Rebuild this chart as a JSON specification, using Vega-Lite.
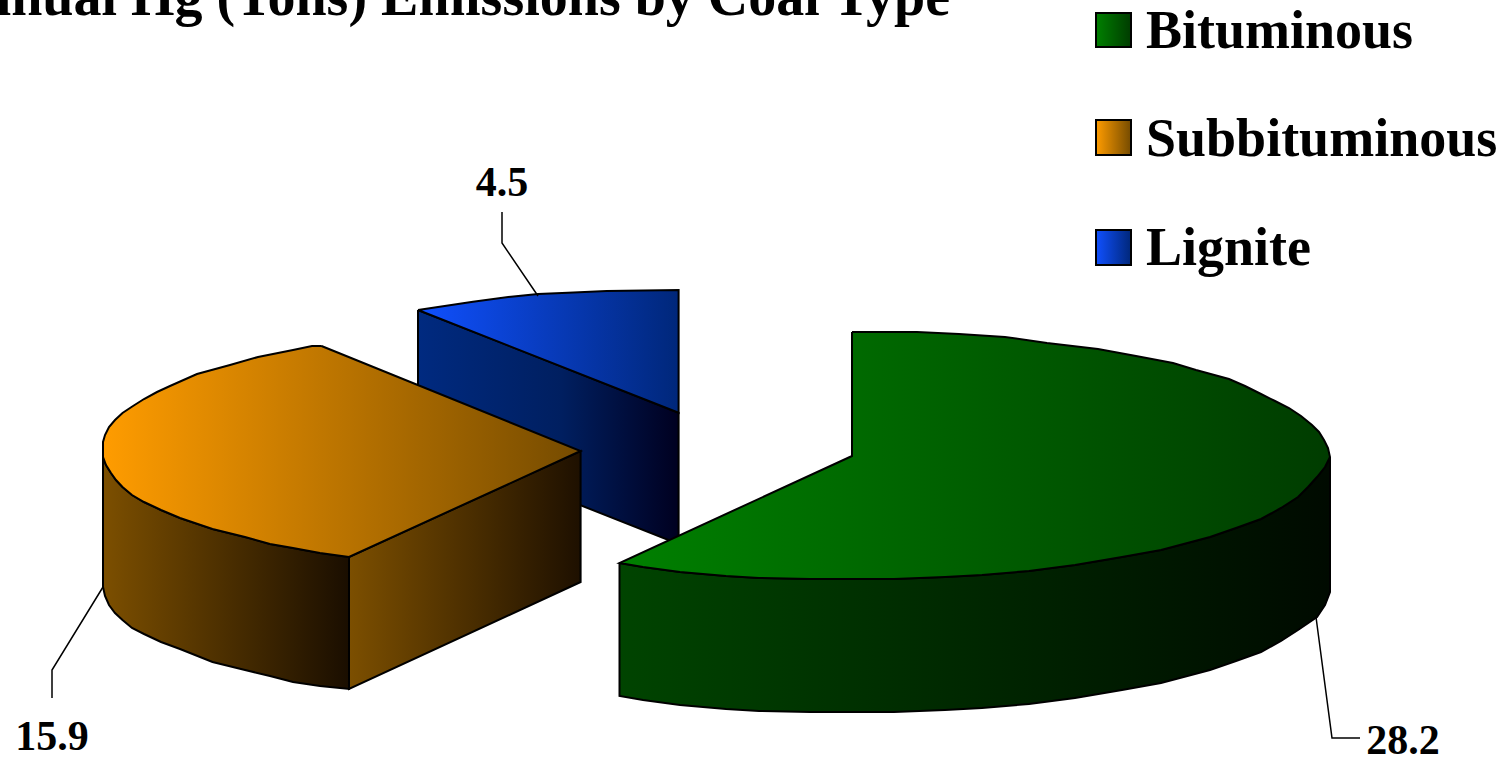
{"$schema":"https://vega.github.io/schema/vega-lite/v6.json","width":1509,"height":758,"padding":0,"autosize":{"type":"none"},"background":"white","config":{"view":{"stroke":null}},
"datasets":{
"outline":[
{"s":"blueSide","i":1,"x":418,"y":310},{"s":"blueSide","i":2,"x":678.6,"y":412.7},{"s":"blueSide","i":3,"x":678.6,"y":544},{"s":"blueSide","i":4,"x":418,"y":441},{"s":"blueSide","i":5,"x":418,"y":310},
{"s":"blueTop","i":1,"x":418,"y":310},{"s":"blueTop","i":2,"x":473,"y":301.7},{"s":"blueTop","i":3,"x":511,"y":296.7},{"s":"blueTop","i":4,"x":538,"y":294},{"s":"blueTop","i":5,"x":568,"y":292.7},{"s":"blueTop","i":6,"x":606.6,"y":291},{"s":"blueTop","i":7,"x":678.6,"y":290},{"s":"blueTop","i":8,"x":678.6,"y":412.7},{"s":"blueTop","i":9,"x":418,"y":310},
{"s":"orangeCut","i":1,"x":349,"y":557},{"s":"orangeCut","i":2,"x":580.6,"y":451},{"s":"orangeCut","i":3,"x":580.6,"y":582},{"s":"orangeCut","i":4,"x":349,"y":689},{"s":"orangeCut","i":5,"x":349,"y":557},
{"s":"orangeSide","i":1,"x":103,"y":457},{"s":"orangeSide","i":1.5,"x":106,"y":465},{"s":"orangeSide","i":2,"x":111,"y":473},{"s":"orangeSide","i":2.5,"x":116,"y":480},{"s":"orangeSide","i":3,"x":122.5,"y":487},{"s":"orangeSide","i":3.5,"x":132,"y":495},{"s":"orangeSide","i":4,"x":144,"y":502},{"s":"orangeSide","i":4.5,"x":161,"y":510},{"s":"orangeSide","i":5,"x":180,"y":518},{"s":"orangeSide","i":6,"x":212.5,"y":529},{"s":"orangeSide","i":7,"x":245,"y":537},{"s":"orangeSide","i":8,"x":270,"y":544},{"s":"orangeSide","i":9,"x":293,"y":548},{"s":"orangeSide","i":10,"x":320,"y":553},{"s":"orangeSide","i":11,"x":349,"y":557},{"s":"orangeSide","i":12,"x":349,"y":689},{"s":"orangeSide","i":13,"x":320,"y":686},{"s":"orangeSide","i":14,"x":293,"y":682},{"s":"orangeSide","i":15,"x":270,"y":676},{"s":"orangeSide","i":16,"x":245,"y":670},{"s":"orangeSide","i":17,"x":212.5,"y":662},{"s":"orangeSide","i":18,"x":180,"y":649},{"s":"orangeSide","i":18.5,"x":161,"y":642},{"s":"orangeSide","i":19,"x":144,"y":634},{"s":"orangeSide","i":19.5,"x":132,"y":628},{"s":"orangeSide","i":20,"x":122.5,"y":620},{"s":"orangeSide","i":20.5,"x":115,"y":613},{"s":"orangeSide","i":21,"x":109,"y":605},{"s":"orangeSide","i":21.5,"x":105,"y":596},{"s":"orangeSide","i":22,"x":103,"y":587},{"s":"orangeSide","i":23,"x":103,"y":457},
{"s":"orangeTop","i":1,"x":321.5,"y":346},{"s":"orangeTop","i":2,"x":312,"y":346},{"s":"orangeTop","i":3,"x":293,"y":350},{"s":"orangeTop","i":4,"x":258,"y":357},{"s":"orangeTop","i":5,"x":230,"y":365},{"s":"orangeTop","i":6,"x":197,"y":374},{"s":"orangeTop","i":7,"x":170,"y":386},{"s":"orangeTop","i":7.5,"x":157,"y":392},{"s":"orangeTop","i":8,"x":144,"y":399},{"s":"orangeTop","i":8.5,"x":133,"y":406},{"s":"orangeTop","i":9,"x":122.5,"y":413},{"s":"orangeTop","i":9.5,"x":115,"y":420},{"s":"orangeTop","i":10,"x":109,"y":427},{"s":"orangeTop","i":10.5,"x":105,"y":435},{"s":"orangeTop","i":11,"x":103,"y":442},{"s":"orangeTop","i":12,"x":103,"y":457},{"s":"orangeTop","i":12.5,"x":106,"y":465},{"s":"orangeTop","i":13,"x":111,"y":473},{"s":"orangeTop","i":13.5,"x":116,"y":480},{"s":"orangeTop","i":14,"x":122.5,"y":487},{"s":"orangeTop","i":14.5,"x":132,"y":495},{"s":"orangeTop","i":15,"x":144,"y":502},{"s":"orangeTop","i":15.5,"x":161,"y":510},{"s":"orangeTop","i":16,"x":180,"y":518},{"s":"orangeTop","i":17,"x":212.5,"y":529},{"s":"orangeTop","i":18,"x":245,"y":537},{"s":"orangeTop","i":19,"x":270,"y":544},{"s":"orangeTop","i":20,"x":293,"y":548},{"s":"orangeTop","i":21,"x":320,"y":553},{"s":"orangeTop","i":22,"x":349,"y":557},{"s":"orangeTop","i":23,"x":580.6,"y":451},{"s":"orangeTop","i":24,"x":321.5,"y":346},
{"s":"greenSide","i":1,"x":619.5,"y":563},{"s":"greenSide","i":2,"x":643,"y":567},{"s":"greenSide","i":3,"x":680,"y":572},{"s":"greenSide","i":4,"x":726,"y":576},{"s":"greenSide","i":5,"x":759,"y":578},{"s":"greenSide","i":6,"x":810,"y":579},{"s":"greenSide","i":7,"x":894,"y":579},{"s":"greenSide","i":8,"x":945,"y":577},{"s":"greenSide","i":9,"x":982,"y":575},{"s":"greenSide","i":10,"x":1029,"y":571},{"s":"greenSide","i":11,"x":1075,"y":565},{"s":"greenSide","i":12,"x":1122,"y":557},{"s":"greenSide","i":13,"x":1161,"y":550},{"s":"greenSide","i":14,"x":1210,"y":537},{"s":"greenSide","i":14.5,"x":1236,"y":528},{"s":"greenSide","i":15,"x":1261,"y":519},{"s":"greenSide","i":15.5,"x":1281,"y":508},{"s":"greenSide","i":16,"x":1298,"y":497},{"s":"greenSide","i":16.5,"x":1308,"y":487},{"s":"greenSide","i":17,"x":1317,"y":477},{"s":"greenSide","i":17.5,"x":1325,"y":467},{"s":"greenSide","i":18,"x":1330,"y":457},{"s":"greenSide","i":19,"x":1330,"y":592},{"s":"greenSide","i":19.5,"x":1325,"y":605},{"s":"greenSide","i":20,"x":1317,"y":617},{"s":"greenSide","i":21,"x":1298,"y":630},{"s":"greenSide","i":21.5,"x":1281,"y":641},{"s":"greenSide","i":22,"x":1261,"y":652},{"s":"greenSide","i":22.5,"x":1236,"y":661},{"s":"greenSide","i":23,"x":1210,"y":670},{"s":"greenSide","i":24,"x":1161,"y":683},{"s":"greenSide","i":25,"x":1122,"y":690},{"s":"greenSide","i":26,"x":1075,"y":698},{"s":"greenSide","i":27,"x":1029,"y":704},{"s":"greenSide","i":28,"x":982,"y":708},{"s":"greenSide","i":29,"x":945,"y":710},{"s":"greenSide","i":30,"x":894,"y":712},{"s":"greenSide","i":31,"x":810,"y":712},{"s":"greenSide","i":32,"x":759,"y":711},{"s":"greenSide","i":33,"x":726,"y":709},{"s":"greenSide","i":34,"x":680,"y":705},{"s":"greenSide","i":35,"x":643,"y":700},{"s":"greenSide","i":36,"x":619.5,"y":696},{"s":"greenSide","i":37,"x":619.5,"y":563},
{"s":"greenTop","i":1,"x":852,"y":332},{"s":"greenTop","i":2,"x":917,"y":332},{"s":"greenTop","i":3,"x":959,"y":334},{"s":"greenTop","i":4,"x":1005,"y":337},{"s":"greenTop","i":5,"x":1047,"y":343},{"s":"greenTop","i":6,"x":1098,"y":349},{"s":"greenTop","i":7,"x":1136,"y":356},{"s":"greenTop","i":8,"x":1173,"y":363},{"s":"greenTop","i":9,"x":1196,"y":370},{"s":"greenTop","i":10,"x":1229,"y":379},{"s":"greenTop","i":10.5,"x":1245,"y":386},{"s":"greenTop","i":11,"x":1261,"y":394},{"s":"greenTop","i":11.5,"x":1275,"y":401},{"s":"greenTop","i":12,"x":1289,"y":408},{"s":"greenTop","i":12.5,"x":1301,"y":416},{"s":"greenTop","i":13,"x":1312,"y":425},{"s":"greenTop","i":13.5,"x":1319,"y":432},{"s":"greenTop","i":14,"x":1324,"y":440},{"s":"greenTop","i":14.5,"x":1328,"y":448},{"s":"greenTop","i":15,"x":1330,"y":457},{"s":"greenTop","i":15.5,"x":1325,"y":467},{"s":"greenTop","i":16,"x":1317,"y":477},{"s":"greenTop","i":16.5,"x":1308,"y":487},{"s":"greenTop","i":17,"x":1298,"y":497},{"s":"greenTop","i":17.5,"x":1281,"y":508},{"s":"greenTop","i":18,"x":1261,"y":519},{"s":"greenTop","i":18.5,"x":1236,"y":528},{"s":"greenTop","i":19,"x":1210,"y":537},{"s":"greenTop","i":20,"x":1161,"y":550},{"s":"greenTop","i":21,"x":1122,"y":557},{"s":"greenTop","i":22,"x":1075,"y":565},{"s":"greenTop","i":23,"x":1029,"y":571},{"s":"greenTop","i":24,"x":982,"y":575},{"s":"greenTop","i":25,"x":945,"y":577},{"s":"greenTop","i":26,"x":894,"y":579},{"s":"greenTop","i":27,"x":810,"y":579},{"s":"greenTop","i":28,"x":759,"y":578},{"s":"greenTop","i":29,"x":726,"y":576},{"s":"greenTop","i":30,"x":680,"y":572},{"s":"greenTop","i":31,"x":643,"y":567},{"s":"greenTop","i":32,"x":619.5,"y":563},{"s":"greenTop","i":33,"x":852,"y":456},{"s":"greenTop","i":34,"x":852,"y":332}
],
"leaders":[
{"type":"Lignite","i":1,"x":502,"y":212},{"type":"Lignite","i":2,"x":502,"y":243},{"type":"Lignite","i":3,"x":538,"y":296},
{"type":"Subbituminous","i":1,"x":103,"y":587},{"type":"Subbituminous","i":2,"x":52,"y":670},{"type":"Subbituminous","i":3,"x":52,"y":698},
{"type":"Bituminous","i":1,"x":1316,"y":617},{"type":"Bituminous","i":2,"x":1332,"y":738},{"type":"Bituminous","i":3,"x":1360,"y":738}
],
"slices":[
{"type":"Bituminous","tons":28.2,"x":1403,"y":754,"lx":1096,"lx2":1131,"ly":13,"ly2":47,"tx":1146,"ty":48},
{"type":"Subbituminous","tons":15.9,"x":52,"y":750,"lx":1096,"lx2":1131,"ly":120,"ly2":155,"tx":1146,"ty":156},
{"type":"Lignite","tons":4.5,"x":502,"y":196,"lx":1096,"lx2":1131,"ly":230,"ly2":265,"tx":1146,"ty":265}
],
"title":[{"text":"Annual Hg (Tons) Emissions by Coal Type","x":950,"y":15}]
},
"encoding":{"x":{"field":"x","type":"quantitative","axis":null,"scale":{"domain":[0,1509],"nice":false,"zero":false}},"y":{"field":"y","type":"quantitative","axis":null,"scale":{"domain":[758,0],"nice":false,"zero":false}}},
"layer":[
{"data":{"name":"outline"},"transform":[{"filter":"datum.s==='blueSide'"}],"mark":{"type":"line","stroke":"black","strokeWidth":2,"fill":{"gradient":"linear","x1":0,"x2":1,"y1":0,"y2":0,"stops":[{"offset":0,"color":"#002a80"},{"offset":0.55,"color":"#001f60"},{"offset":1,"color":"#000020"}]}},"encoding":{"order":{"field":"i","type":"quantitative"}}},
{"data":{"name":"outline"},"transform":[{"filter":"datum.s==='blueTop'"}],"mark":{"type":"line","stroke":"black","strokeWidth":2,"fill":{"gradient":"linear","x1":0,"x2":1,"y1":0,"y2":0,"stops":[{"offset":0,"color":"#1050ff"},{"offset":1,"color":"#00277a"}]}},"encoding":{"order":{"field":"i","type":"quantitative"}}},
{"data":{"name":"outline"},"transform":[{"filter":"datum.s==='orangeCut'"}],"mark":{"type":"line","stroke":"black","strokeWidth":2,"fill":{"gradient":"linear","x1":0,"x2":1,"y1":0,"y2":0,"stops":[{"offset":0,"color":"#7c4f00"},{"offset":1,"color":"#1e1000"}]}},"encoding":{"order":{"field":"i","type":"quantitative"}}},
{"data":{"name":"outline"},"transform":[{"filter":"datum.s==='orangeSide'"}],"mark":{"type":"line","stroke":"black","strokeWidth":2,"fill":{"gradient":"linear","x1":0,"x2":1,"y1":0,"y2":0,"stops":[{"offset":0,"color":"#7c4f00"},{"offset":1,"color":"#1a0e00"}]}},"encoding":{"order":{"field":"i","type":"quantitative"}}},
{"data":{"name":"outline"},"transform":[{"filter":"datum.s==='orangeTop'"}],"mark":{"type":"line","stroke":"black","strokeWidth":2,"fill":{"gradient":"linear","x1":0,"x2":1,"y1":0,"y2":0,"stops":[{"offset":0,"color":"#ff9c00"},{"offset":1,"color":"#754b00"}]}},"encoding":{"order":{"field":"i","type":"quantitative"}}},
{"data":{"name":"outline"},"transform":[{"filter":"datum.s==='greenSide'"}],"mark":{"type":"line","stroke":"black","strokeWidth":2,"fill":{"gradient":"linear","x1":0,"x2":1,"y1":0,"y2":0,"stops":[{"offset":0,"color":"#004400"},{"offset":1,"color":"#000a00"}]}},"encoding":{"order":{"field":"i","type":"quantitative"}}},
{"data":{"name":"outline"},"transform":[{"filter":"datum.s==='greenTop'"}],"mark":{"type":"line","stroke":"black","strokeWidth":2,"fill":{"gradient":"linear","x1":0,"x2":1,"y1":0,"y2":0,"stops":[{"offset":0,"color":"#008000"},{"offset":1,"color":"#003c00"}]}},"encoding":{"order":{"field":"i","type":"quantitative"}}},
{"data":{"name":"leaders"},"mark":{"type":"line","stroke":"black","strokeWidth":1.5},"encoding":{"detail":{"field":"type"},"order":{"field":"i","type":"quantitative"}}},
{"data":{"name":"slices"},"mark":{"type":"text","font":"Liberation Serif","fontWeight":"bold","fontSize":42,"baseline":"alphabetic","align":"center","color":"black"},"encoding":{"text":{"field":"tons","type":"quantitative","format":".1f"}}},
{"data":{"name":"slices"},"transform":[{"filter":"datum.type==='Bituminous'"}],"mark":{"type":"rect","stroke":"black","strokeWidth":2,"fill":{"gradient":"linear","x1":0,"x2":1,"y1":0,"y2":0,"stops":[{"offset":0,"color":"#008000"},{"offset":1,"color":"#003c00"}]}},"encoding":{"x":{"field":"lx","type":"quantitative"},"x2":{"field":"lx2"},"y":{"field":"ly","type":"quantitative"},"y2":{"field":"ly2"}}},
{"data":{"name":"slices"},"transform":[{"filter":"datum.type==='Subbituminous'"}],"mark":{"type":"rect","stroke":"black","strokeWidth":2,"fill":{"gradient":"linear","x1":0,"x2":1,"y1":0,"y2":0,"stops":[{"offset":0,"color":"#ff9c00"},{"offset":1,"color":"#754b00"}]}},"encoding":{"x":{"field":"lx","type":"quantitative"},"x2":{"field":"lx2"},"y":{"field":"ly","type":"quantitative"},"y2":{"field":"ly2"}}},
{"data":{"name":"slices"},"transform":[{"filter":"datum.type==='Lignite'"}],"mark":{"type":"rect","stroke":"black","strokeWidth":2,"fill":{"gradient":"linear","x1":0,"x2":1,"y1":0,"y2":0,"stops":[{"offset":0,"color":"#1050ff"},{"offset":1,"color":"#00277a"}]}},"encoding":{"x":{"field":"lx","type":"quantitative"},"x2":{"field":"lx2"},"y":{"field":"ly","type":"quantitative"},"y2":{"field":"ly2"}}},
{"data":{"name":"slices"},"mark":{"type":"text","font":"Liberation Serif","fontWeight":"bold","fontSize":54,"baseline":"alphabetic","align":"left","color":"black"},"encoding":{"x":{"field":"tx","type":"quantitative"},"y":{"field":"ty","type":"quantitative"},"text":{"field":"type"}}},
{"data":{"name":"title"},"mark":{"type":"text","font":"Liberation Serif","fontWeight":"bold","fontSize":56,"baseline":"alphabetic","align":"right","color":"black"},"encoding":{"text":{"field":"text"}}}
]}
